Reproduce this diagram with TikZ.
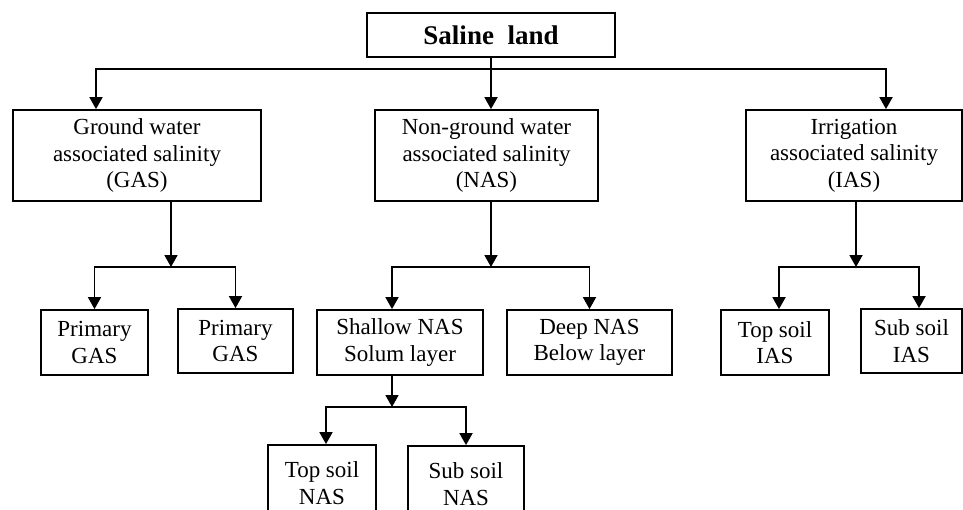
\documentclass[tikz,border=0pt]{standalone}
\usepackage{fontspec}
\setmainfont{Liberation Serif}
\usetikzlibrary{arrows.meta}

\tikzset{
  box/.style={draw,line width=0.9pt,align=center,inner sep=0pt,
    font=\fontsize{11.5}{13.3}\selectfont},
  arr/.style={line width=0.9pt,-{Triangle[width=6.5pt,length=6pt]}},
  link/.style={line width=0.9pt}
}

\begin{document}
\begin{tikzpicture}[x=0.5pt,y=-0.5pt]
  \useasboundingbox (0,0) rectangle (963,509);
  \clip (0,0) rectangle (963,509);
  % boxes
  \node[box,minimum width=124pt,minimum height=22pt,font=\fontsize{13.5}{15}\bfseries](top)at(491,35){Saline\ \ land};
  \node[box,minimum width=124pt,minimum height=45.5pt](gas)at(137,155.5){Ground water\\associated salinity\\(GAS)};
  \node[box,minimum width=111.5pt,minimum height=45.5pt](nas)at(486.5,155.5){Non-ground water\\associated salinity\\(NAS)};
  \node[box,minimum width=108pt,minimum height=45.5pt](ias)at(854,155.5){Irrigation\\associated salinity\\(IAS)};
  \node[box,minimum width=53.5pt,minimum height=32.5pt](pgas1)at(94.5,342.5){Primary\\GAS};
  \node[box,minimum width=57.5pt,minimum height=32pt](pgas2)at(235.5,341){Primary\\GAS};
  \node[box,minimum width=83pt,minimum height=32.5pt](shallow)at(400,342.5){Shallow NAS\\Solum layer};
  \node[box,minimum width=82.5pt,minimum height=32.5pt](deep)at(589.5,342.5){Deep NAS\\Below layer};
  \node[box,minimum width=54pt,minimum height=32.5pt](topias)at(775,342.5){Top soil\\IAS};
  \node[box,minimum width=50.5pt,minimum height=32pt](subias)at(911.5,341){Sub soil\\IAS};
  \node[box,minimum width=54pt,minimum height=38pt](topnas)at(322,483){Top soil\\NAS};
  \node[box,minimum width=58pt,minimum height=38pt](subnas)at(466,484){Sub soil\\NAS};
  % junctions
  \coordinate(j0)at(491,69);
  \coordinate(j1)at(171,267);
  \coordinate(j2)at(491,267);
  \coordinate(j3)at(392,407);
  \coordinate(j4)at(856,267);
  % connectors
  \draw[link](top.south)--(j0);
  \draw[arr](j0)-|([xshift=-20.5pt]gas.north);
  \draw[arr](j0)--(nas.north-|j0);
  \draw[arr](j0)-|([xshift=16pt]ias.north);
  \draw[arr](gas.south-|j1)--(j1);
  \draw[arr](j1)-|(pgas1.north);
  \draw[arr](j1)-|(pgas2.north);
  \draw[arr](nas.south-|j2)--(j2);
  \draw[arr](j2)-|([xshift=-4pt]shallow.north);
  \draw[arr](j2)-|(deep.north);
  \draw[arr](shallow.south-|j3)--(j3);
  \draw[arr](j3)-|([xshift=2pt]topnas.north);
  \draw[arr](j3)-|(subnas.north);
  \draw[arr](ias.south-|j4)--(j4);
  \draw[arr](j4)-|([xshift=2pt]topias.north);
  \draw[arr](j4)-|([xshift=3.75pt]subias.north);
\end{tikzpicture}
\end{document}
